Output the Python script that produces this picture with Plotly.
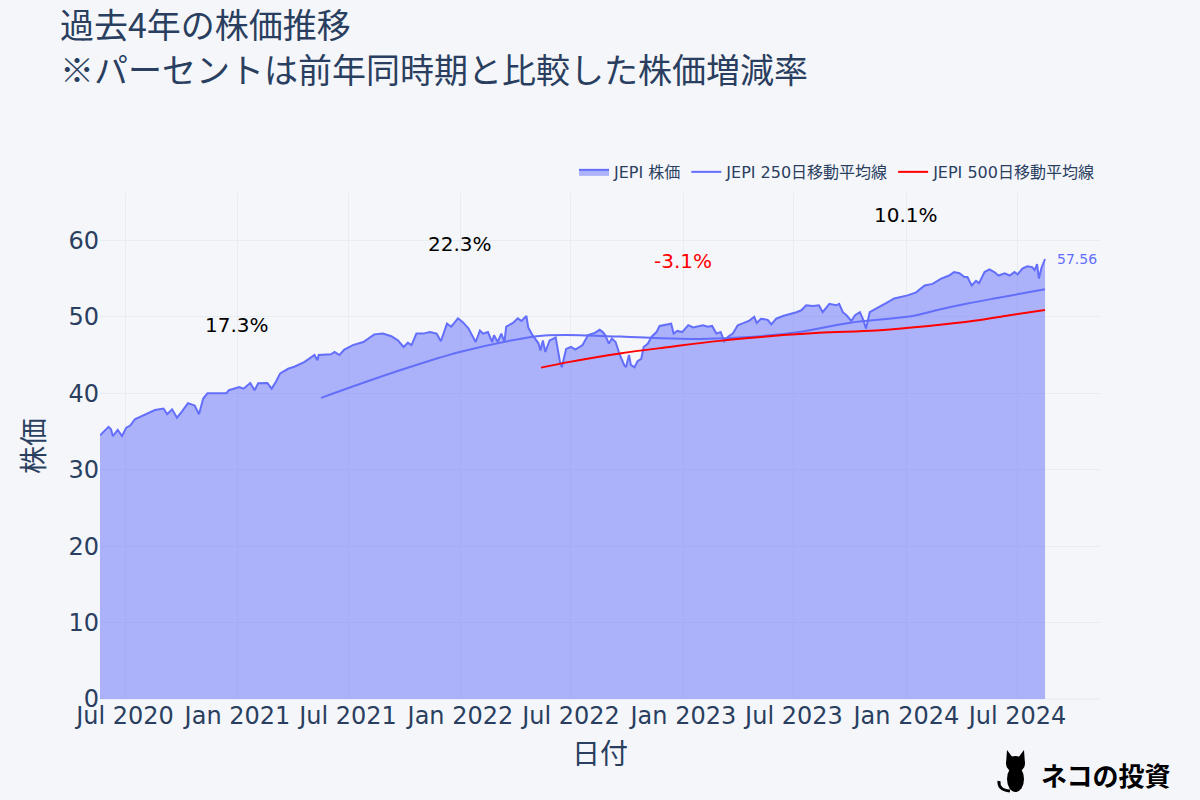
import plotly.graph_objects as go
import pandas as pd

price_dates = [
    "2020-05-21","2020-06-04","2020-06-08","2020-06-11","2020-06-19","2020-06-26","2020-07-03","2020-07-10",
    "2020-07-17","2020-08-03","2020-08-19","2020-09-02","2020-09-08","2020-09-16","2020-09-24","2020-10-02",
    "2020-10-12","2020-10-23","2020-10-30","2020-11-06","2020-11-13","2020-11-30","2020-12-14","2020-12-18",
    "2021-01-04","2021-01-11","2021-01-22","2021-01-29","2021-02-04","2021-02-19","2021-02-26","2021-03-05",
    "2021-03-12","2021-03-25","2021-04-05","2021-04-21","2021-05-07","2021-05-12","2021-05-14","2021-06-03",
    "2021-06-09","2021-06-17","2021-06-25","2021-07-09","2021-07-26","2021-08-13","2021-08-27","2021-09-10",
    "2021-09-21","2021-09-24","2021-09-30","2021-10-07","2021-10-13","2021-10-21","2021-11-01","2021-11-12",
    "2021-11-23","2021-11-30","2021-12-06","2021-12-10","2021-12-17","2021-12-28","2022-01-05","2022-01-14",
    "2022-01-26","2022-02-02","2022-02-07","2022-02-15","2022-02-22","2022-02-25","2022-03-03","2022-03-09",
    "2022-03-14","2022-03-17","2022-03-28","2022-04-05","2022-04-11","2022-04-19","2022-04-22","2022-04-29",
    "2022-05-09","2022-05-12","2022-05-16","2022-05-20","2022-05-27","2022-06-06","2022-06-13","2022-06-16",
    "2022-06-23","2022-07-01","2022-07-08","2022-07-20","2022-07-29","2022-08-09","2022-08-17","2022-08-22",
    "2022-08-26","2022-09-01","2022-09-06","2022-09-12","2022-09-19","2022-09-26","2022-09-29","2022-10-04",
    "2022-10-07","2022-10-13","2022-10-18","2022-10-24","2022-10-28","2022-11-04","2022-11-10","2022-11-18",
    "2022-11-23","2022-12-02","2022-12-12","2022-12-16","2022-12-22","2022-12-30","2023-01-09","2023-01-17",
    "2023-01-25","2023-02-02","2023-02-10","2023-02-17","2023-02-24","2023-03-03","2023-03-09","2023-03-15",
    "2023-03-23","2023-03-31","2023-04-10","2023-04-19","2023-04-27","2023-05-01","2023-05-08","2023-05-19",
    "2023-05-25","2023-06-02","2023-06-13","2023-06-23","2023-07-05","2023-07-13","2023-07-21","2023-08-01",
    "2023-08-11","2023-08-17","2023-08-28","2023-09-08","2023-09-13","2023-09-19","2023-09-25","2023-10-03",
    "2023-10-09","2023-10-17","2023-10-23","2023-10-27","2023-11-02","2023-11-13","2023-11-21","2023-12-01",
    "2023-12-12","2023-12-22","2024-01-03","2024-01-17","2024-01-31","2024-02-13","2024-02-27","2024-03-11",
    "2024-03-19","2024-03-28","2024-04-05","2024-04-10","2024-04-17","2024-04-24","2024-04-29","2024-05-08",
    "2024-05-16","2024-05-24","2024-05-31","2024-06-10","2024-06-18","2024-06-26","2024-07-01","2024-07-09",
    "2024-07-17","2024-07-25","2024-07-29","2024-08-02","2024-08-05","2024-08-09","2024-08-15",
]
price_values = [
    34.5, 35.6, 35.3, 34.4, 35.2, 34.4, 35.5, 35.8,
    36.6, 37.25, 37.8, 38.0, 37.25, 37.9, 36.8, 37.6,
    38.7, 38.4, 37.25, 39.3, 40.0, 40.0, 40.0, 40.4,
    40.8, 40.6, 41.35, 40.4, 41.3, 41.35, 40.6, 41.5,
    42.6, 43.2, 43.5, 44.1, 45.0, 44.3, 45.0, 45.1,
    45.4, 45.0, 45.7, 46.3, 46.7, 47.7, 47.8, 47.45,
    46.9, 46.6, 46.05, 46.6, 46.3, 47.8, 47.8, 48.0,
    47.8, 46.8, 48.3, 49.1, 48.7, 49.8, 49.3, 48.5,
    46.7, 48.2, 47.8, 48.0, 46.7, 47.6, 46.7, 47.8,
    46.7, 48.7, 49.2, 49.8, 49.45, 50.1, 48.6, 47.6,
    46.5, 45.6, 46.9, 45.4, 46.9, 47.3, 44.1, 43.4,
    45.8, 46.05, 45.7, 46.3, 47.6, 47.9, 48.3, 48.0,
    47.6, 46.5, 47.15, 46.7, 45.0, 43.7, 43.4, 45.0,
    43.7, 43.4, 44.2, 44.5, 46.05, 46.5, 47.4, 48.0,
    48.8, 48.9, 49.1, 47.8, 48.15, 48.0, 48.9, 48.6,
    48.8, 48.9, 48.7, 48.8, 47.8, 48.0, 46.8, 47.4,
    47.8, 48.9, 49.2, 49.5, 50.0, 49.2, 49.75, 49.6,
    49.0, 49.75, 50.1, 50.3, 50.6, 50.85, 51.5, 51.4,
    51.5, 50.6, 51.7, 51.5, 51.7, 50.6, 50.2, 49.45,
    50.2, 50.6, 49.5, 48.45, 50.6, 51.1, 51.5, 51.9,
    52.4, 52.6, 52.8, 53.2, 54.1, 54.3, 55.0, 55.4,
    55.85, 55.7, 55.2, 55.2, 54.1, 54.7, 54.4, 55.85,
    56.2, 55.85, 55.4, 55.7, 55.4, 55.85, 55.55, 56.3,
    56.6, 56.5, 56.1, 56.9, 55.0, 56.35, 57.56,
]

ma250_dates = ["2021-05-18","2021-09-24","2021-12-31","2022-04-22","2022-05-19","2022-07-15","2022-11-07",
               "2023-01-27","2023-04-19","2023-07-10","2023-09-29","2024-01-11","2024-02-19","2024-04-08",
               "2024-05-31","2024-08-15"]
ma250_values = [39.4, 43.0, 45.4, 47.3, 47.55, 47.6, 47.25, 47.1, 47.35, 48.0, 49.2, 50.1, 50.85, 51.7, 52.5, 53.6]

ma500_dates = ["2022-05-13","2022-06-29","2022-09-19","2022-12-09","2023-03-01","2023-05-22","2023-08-11",
               "2023-11-13","2024-02-02","2024-04-24","2024-06-18","2024-08-15"]
ma500_values = [43.35, 44.1, 45.2, 46.05, 46.85, 47.45, 47.9, 48.2, 48.75, 49.5, 50.2, 50.9]

pct_dates = ["2021-01-01", "2022-01-01", "2023-01-01", "2024-01-01"]
pct_labels = ["17.3%", "22.3%", "-3.1%", "10.1%"]
pct_y = [48.9, 59.5, 57.3, 63.3]
pct_colors = ["black", "black", "red", "black"]

BLUE = "#636efa"
FONT = "DejaVu Sans, Noto Sans CJK JP, sans-serif"
CJK = "Noto Sans CJK JP"

fig = go.Figure()
fig.add_trace(go.Scatter(x=price_dates, y=price_values, mode="lines", name="JEPI 株価",
                         line=dict(color=BLUE, width=2), fill="tozeroy"))
fig.add_trace(go.Scatter(x=ma250_dates, y=ma250_values, mode="lines", name="JEPI 250日移動平均線",
                         line=dict(color=BLUE, width=2, shape="spline")))
fig.add_trace(go.Scatter(x=ma500_dates, y=ma500_values, mode="lines", name="JEPI 500日移動平均線",
                         line=dict(color="red", width=2, shape="spline")))

for d, t, yv, c in zip(pct_dates, pct_labels, pct_y, pct_colors):
    fig.add_annotation(x=d, y=yv, text=t, showarrow=False, font=dict(size=20, color=c))

fig.add_annotation(x=price_dates[-1], y=price_values[-1], text=f"{price_values[-1]:.2f}", showarrow=False,
                   xanchor="left", xshift=10, font=dict(size=14, color=BLUE))

# watermark logo (text + small cat silhouette), positioned in paper units relative to the plot area
fig.add_annotation(x=1.072, y=-0.150, xref="paper", yref="paper", text="<b>ネコの投資</b>", showarrow=False,
                   xanchor="right", yanchor="middle", font=dict(size=26, color="black", family=CJK))

def px(xp, yp):
    return (xp - 100) / 1000, (699 - yp) / 506

hx0, hy0 = px(1006, 772); hx1, hy1 = px(1025, 756)
fig.add_shape(type="circle", xref="paper", yref="paper", x0=hx0, y0=hy0, x1=hx1, y1=hy1,
              fillcolor="black", line=dict(width=0))
bx0, by0 = px(1007, 792); bx1, by1 = px(1024, 766)
fig.add_shape(type="circle", xref="paper", yref="paper", x0=bx0, y0=by0, x1=bx1, y1=by1,
              fillcolor="black", line=dict(width=0))
def path(points):
    return "M " + " L ".join(f"{px(a, b)[0]:.5f},{px(a, b)[1]:.5f}" for a, b in points) + " Z"
fig.add_shape(type="path", xref="paper", yref="paper", path=path([(1006, 764), (1007, 750), (1013, 758)]),
              fillcolor="black", line=dict(width=0))
fig.add_shape(type="path", xref="paper", yref="paper", path=path([(1018, 758), (1024, 750), (1025, 764)]),
              fillcolor="black", line=dict(width=0))
t0 = px(1010, 791); t1 = px(998, 790); t2 = px(999, 781)
fig.add_shape(type="path", xref="paper", yref="paper",
              path=f"M {t0[0]:.5f},{t0[1]:.5f} Q {t1[0]:.5f},{t1[1]:.5f} {t2[0]:.5f},{t2[1]:.5f}",
              line=dict(color="black", width=3))

end = pd.Timestamp(price_dates[-1]) + pd.Timedelta(days=90)
fig.update_layout(
    template="plotly_white",
    width=1200, height=800,
    paper_bgcolor="#f5f6fa", plot_bgcolor="#f5f6fa",
    font=dict(family=FONT, color="#2a3f5f"),
    title=dict(text="過去4年の株価推移<br>※パーセントは前年同時期と比較した株価増減率",
               x=0.05, xanchor="left", y=0.952, yanchor="top", font=dict(size=34, family=CJK)),
    margin=dict(l=100, r=100, t=193, b=101),
    legend=dict(orientation="h", x=1, xanchor="right", y=1.008, yanchor="bottom", font=dict(size=16)),
    xaxis=dict(title=dict(text="日付", font=dict(size=28)), range=[price_dates[0], end.strftime("%Y-%m-%d")],
               dtick="M6", tickformat="%b %Y", tickfont=dict(size=24), gridcolor="#e8ecf3"),
    yaxis=dict(title=dict(text="株価", font=dict(size=28)), range=[0, max(price_values) * 1.15],
               dtick=10, tickfont=dict(size=24), gridcolor="#e8ecf3"),
)
fig.write_html("out.html", config={"displayModeBar": False},
               post_script="document.body.style.margin='0';document.body.style.background='#f5f6fa';")
